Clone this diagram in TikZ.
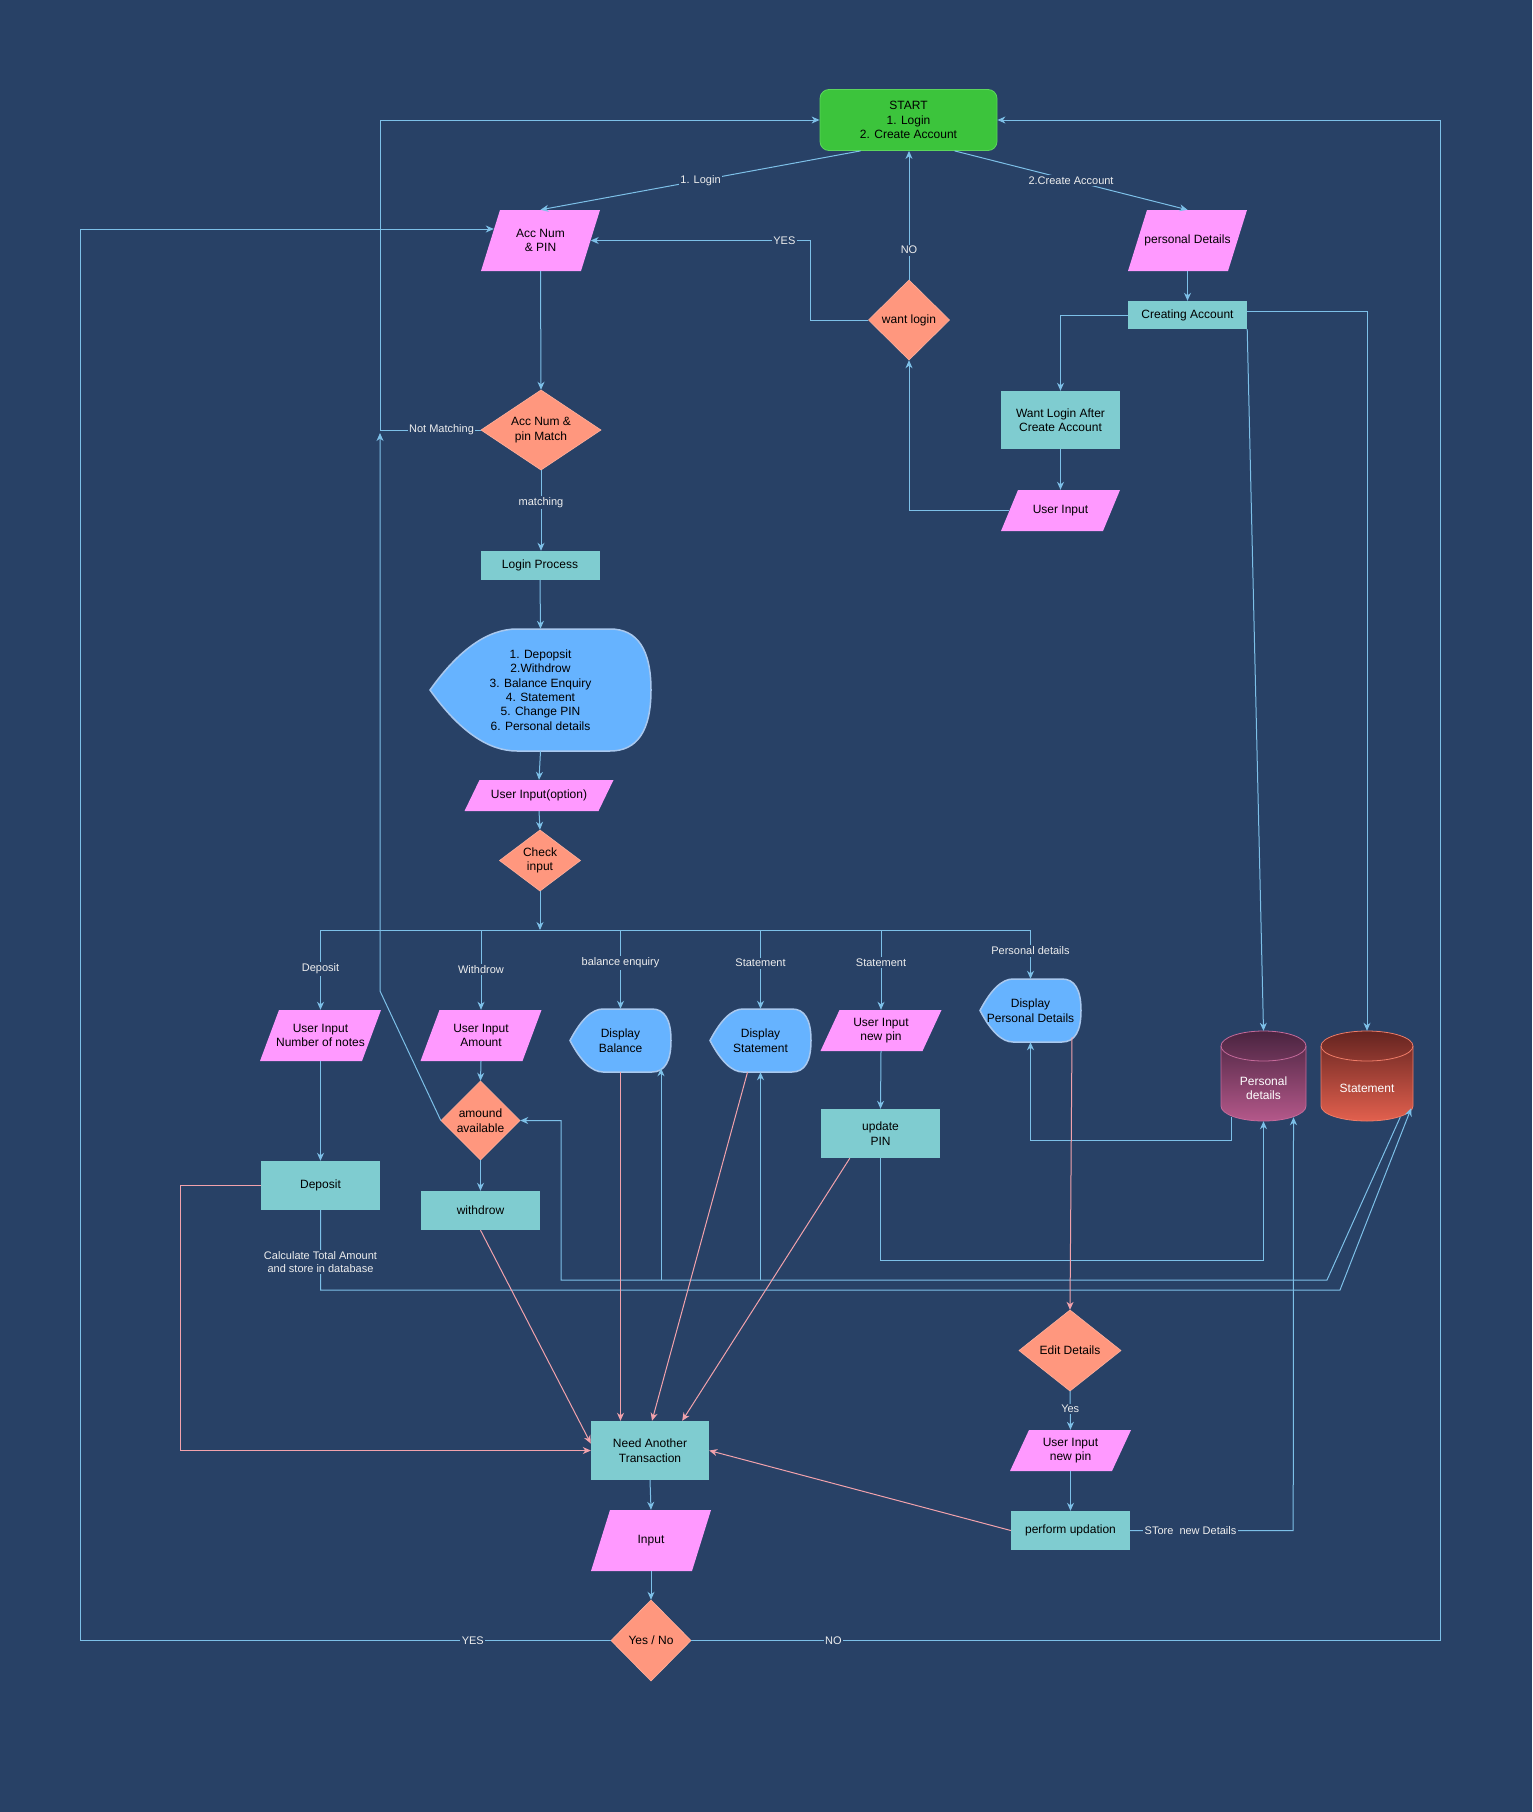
\documentclass[tikz,border=0pt]{standalone}
\usepackage{fontspec}
\setmainfont{Liberation Sans}
\usetikzlibrary{arrows.meta,calc}
\definecolor{bg}{HTML}{284166}
\definecolor{edgeb}{HTML}{7DC0E8}
\definecolor{edgep}{HTML}{F2A2AC}
\definecolor{mag}{HTML}{FF99FF}
\definecolor{tealbox}{HTML}{7FCCD0}
\definecolor{salmon}{HTML}{FF977E}
\definecolor{salmonline}{HTML}{FFB09C}
\definecolor{dispfill}{HTML}{66B3FF}
\definecolor{displine}{HTML}{A9C8EE}
\definecolor{startg}{HTML}{3CC43C}
\definecolor{startline}{HTML}{5CD65C}
\definecolor{lbltext}{HTML}{EEEEEE}
\definecolor{pdtop}{HTML}{4A2440}
\definecolor{pdbot}{HTML}{B4588A}
\definecolor{pdline}{HTML}{C46A9A}
\definecolor{sttop}{HTML}{652420}
\definecolor{stbot}{HTML}{E2604E}
\definecolor{stline}{HTML}{EE7C68}

\tikzset{
  ntext/.style={font=\fontsize{12}{14.4}\selectfont, align=center, inner sep=0pt, text=black},
  procbox/.style={ntext, rectangle, fill=tealbox},
  lbl/.style={font=\fontsize{11}{13}\selectfont, align=center, inner sep=1.5pt, fill=bg, text=lbltext},
  bl/.style={draw=edgeb, line width=1pt},
  pk/.style={draw=edgep, line width=1pt},
  arr/.style={-{Stealth[length=8pt,width=7pt,inset=2.5pt]}},
}

% parallelogram: name, cx, cy, W, H, slant, text
\newcommand\mkpara[7]{%
  \fill[mag] ({#2-#4/2+#6},{#3-#5/2}) -- ({#2+#4/2},{#3-#5/2}) -- ({#2+#4/2-#6},{#3+#5/2}) -- ({#2-#4/2},{#3+#5/2}) -- cycle;
  \node[ntext, minimum width={(#4-#6)*1pt}, minimum height=#5pt] (#1) at (#2,#3) {#7};}

% diamond: name, cx, cy, W, H, text
\newcommand\mkdia[6]{%
  \path[fill=salmon, draw=salmonline, line width=0.6pt] ({#2},{#3-#5/2}) -- ({#2+#4/2},{#3}) -- ({#2},{#3+#5/2}) -- ({#2-#4/2},{#3}) -- cycle;
  \node[ntext, minimum width=#4pt, minimum height=#5pt] (#1) at (#2,#3) {#6};}

% display: name, cx, cy, W, H, leftpart, rightradius, text
\newcommand\mkdisp[8]{%
  \path[fill=dispfill, draw=displine, line width=1.5pt]
   ({#2-#4/2},{#3}) .. controls ({#2-#4/2+#6/3},{#3-#5/3}) and ({#2-#4/2+2*#6/3},{#3-#5/2}) .. ({#2-#4/2+#6},{#3-#5/2})
   -- ({#2+#4/2-#7},{#3-#5/2}) .. controls ({#2+#4/2-#7/3},{#3-#5/2}) and ({#2+#4/2},{#3-#5/3}) .. ({#2+#4/2},{#3})
   .. controls ({#2+#4/2},{#3+#5/3}) and ({#2+#4/2-#7/3},{#3+#5/2}) .. ({#2+#4/2-#7},{#3+#5/2})
   -- ({#2-#4/2+#6},{#3+#5/2}) .. controls ({#2-#4/2+2*#6/3},{#3+#5/2}) and ({#2-#4/2+#6/3},{#3+#5/3}) .. ({#2-#4/2},{#3}) -- cycle;
  \node[ntext, minimum width=#4pt, minimum height=#5pt] (#1) at (#2,#3) {#8};}

% cylinder: name, cx, cy, W, H, topcolor, bottomcolor, stroke, text
\newcommand\mkcyl[9]{%
  \path[top color=#6, bottom color=#7, draw=#8, line width=0.8pt]
   ({#2-#4/2},{#3-#5/2+15}) -- ({#2-#4/2},{#3+#5/2-15})
   arc[start angle=180, end angle=360, x radius={#4*0.5pt}, y radius=15pt]
   -- ({#2+#4/2},{#3-#5/2+15})
   arc[start angle=0, end angle=180, x radius={#4*0.5pt}, y radius=15pt] -- cycle;
  \draw[#8, line width=0.8pt] ({#2-#4/2},{#3-#5/2+15}) arc[start angle=180, end angle=360, x radius={#4*0.5pt}, y radius=15pt];
  \node[inner sep=0pt, minimum width=#4pt, minimum height=#5pt,
        label={[font=\fontsize{12}{14.4}\selectfont, text=white, align=center, yshift=-12pt]center:{#9}}] (#1) at (#2,#3) {};}

\begin{document}
\begin{tikzpicture}[x=1pt, y=-1pt]
\fill[bg] (0,0) rectangle (1532,1812);

% ---------- nodes ----------
\node[ntext, fill=startg, draw=startline, line width=0.8pt, rounded corners=9pt, minimum width=177pt, minimum height=61pt] (start) at (908.5,120) {START\\1. Login\\2. Create Account};

\mkpara{accpin}{540.5}{240.5}{119}{61}{19}{Acc Num\\\& PIN}
\mkpara{persdet}{1187.5}{240.5}{119}{61}{19}{personal Details}
\mkdia{wantlogin}{909}{320}{81}{80}{want login}
\node[procbox, minimum width=119pt, minimum height=28pt] (creating) at (1187.5,315) {Creating Account};
\node[procbox, minimum width=119pt, minimum height=58pt] (wantafter) at (1060.5,420) {Want Login After\\Create Account};
\mkpara{uinput}{1060.5}{510.5}{119}{41}{17}{User Input}
\mkdia{match}{541}{430}{120}{80}{Acc Num \&\\pin Match}
\node[procbox, minimum width=119pt, minimum height=29pt] (login) at (540,565.5) {Login Process};
\mkdisp{menu}{540.5}{690}{221}{122}{87}{41}{1. Depopsit\\2.Withdrow\\3. Balance Enquiry\\4. Statement\\5. Change PIN\\6. Personal details}
\mkpara{uopt}{539}{795.5}{149}{31}{15}{User Input(option)}
\mkdia{check}{540}{860.5}{81}{61}{Check\\input}

\mkpara{uinnotes}{320.5}{1035.5}{121}{51}{19}{User Input\\Number of notes}
\mkpara{uiamount}{481}{1035.5}{121}{51}{19}{User Input\\Amount}
\mkdisp{dbal}{620.5}{1040.5}{101}{63}{33}{19}{Display\\Balance}
\mkdisp{dstmt}{760.5}{1040.5}{101}{63}{33}{19}{Display\\Statement}
\mkpara{uipin}{881}{1030.5}{121}{41}{19}{User Input\\new pin}
\mkdisp{dpers}{1030.5}{1010.5}{101}{63}{33}{19}{Display\\Personal Details}
\mkcyl{cylpd}{1263.5}{1076}{85}{90}{pdtop}{pdbot}{pdline}{Personal\\details}
\mkcyl{cylst}{1367}{1076}{92}{90}{sttop}{stbot}{stline}{Statement}

\mkdia{amount}{480.5}{1120.5}{79}{79}{amound\\available}
\node[procbox, minimum width=119pt, minimum height=49pt] (deposit) at (320.5,1185.5) {Deposit};
\node[procbox, minimum width=119pt, minimum height=39pt] (withdrow) at (480.5,1210.5) {withdrow};
\node[procbox, minimum width=119pt, minimum height=49pt] (updpin) at (880.5,1133.5) {update\\PIN};

\mkdia{edit}{1070}{1350.5}{102}{81}{Edit Details}
\mkpara{uipin2}{1070.5}{1450.5}{121}{41}{19}{User Input\\new pin}
\node[procbox, minimum width=119pt, minimum height=39pt] (perform) at (1070.5,1530.5) {perform updation};
\node[procbox, minimum width=118pt, minimum height=59pt] (nat) at (650,1450.5) {Need Another\\Transaction};
\mkpara{input}{651}{1540.5}{120}{61}{19}{Input}
\mkdia{yesno}{651}{1640.5}{80}{81}{Yes / No}

\coordinate (bar) at (540,930);

% ---------- blue connectors ----------
\draw[bl,arr] ($(start.south west)+(41,0)$) -- node[lbl]{1. Login} (accpin.north);
\draw[bl,arr] ($(start.south west)+(135,0)$) -- node[lbl]{2.Create Account} (persdet.north);
\draw[bl,arr] (wantlogin.north) -- node[lbl,pos=0.23]{NO} (wantlogin.north |- start.south);
\draw[bl,arr] (wantlogin.west) -- ++(-57.5,0) |- node[lbl,pos=0.56]{YES} (accpin.east);
\draw[bl,arr] (persdet.south) -- (creating.north);
\draw[bl,arr] (creating.west) -| (wantafter.north);
\draw[bl,arr] (wantafter.south) -- (uinput.north);
\draw[bl,arr] (uinput.west) -| (wantlogin.south);
\draw[bl,arr] (creating.south east) -- (cylpd.north);
\draw[bl,arr] ($(creating.east)+(0,-4)$) -| (cylst.north);

\draw[bl,arr] (accpin.south) -- (match.north);
\draw[bl,arr] (match.south) -- node[lbl,pos=0.4]{matching} (match.south |- login.north);
\draw[bl,arr] (match.west) -- node[lbl,pos=0.39]{Not Matching} (380,430) |- (start.west);
\draw[bl,arr] (amount.west) -- (380,991) -- (380,433);
\draw[bl,arr] (login.south) -- (menu.north);
\draw[bl,arr] (menu.south) -- (uopt.north);
\draw[bl,arr] (uopt.south) -- (check.north);
\draw[bl,arr] (check.south) -- (bar);
\draw[bl] (uinnotes.north |- bar) -- (dpers.north |- bar);

\draw[bl,arr] (uinnotes.north |- bar) -- node[lbl,pos=0.49]{Deposit} (uinnotes.north);
\draw[bl,arr] (uiamount.north |- bar) -- node[lbl,pos=0.49]{Withdrow} (uiamount.north);
\draw[bl,arr] (dbal.north |- bar) -- node[lbl,pos=0.42]{balance enquiry} (dbal.north);
\draw[bl,arr] (dstmt.north |- bar) -- node[lbl,pos=0.42]{Statement} (dstmt.north);
\draw[bl,arr] (uipin.north |- bar) -- node[lbl,pos=0.41]{Statement} (uipin.north);
\draw[bl,arr] (dpers.north |- bar) -- node[lbl,pos=0.43]{Personal details} (dpers.north);

\draw[bl,arr] (uinnotes.south) -- (deposit.north);
\draw[bl,arr] (uiamount.south) -- (amount.north);
\draw[bl,arr] (amount.south) -- (withdrow.north);
\draw[bl,arr] (uipin.south) -- (updpin.north);

\draw[bl,arr] (deposit.south) -- node[lbl,pos=0.65]{Calculate Total Amount\\and store in database} ++(0,80) -- (1340,1290) -- ($(cylst.south east)+(-2,-13)$);
\draw[bl,arr] ($(cylst.south east)+(-13,-4)$) -- (1327,1280) -- (561,1280) |- (amount.east);
\draw[bl,arr] (661,1280) -- ($(dbal.south)+(40.5,-4)$);
\draw[bl,arr] (dstmt.south |- 0,1280) -- (dstmt.south);
\draw[bl,arr] ($(cylpd.south west)+(11,-4)$) -- ++(0,23) -| (dpers.south);
\draw[bl,arr] (updpin.south) -- ++(0,102) -| (cylpd.south);
\draw[bl,arr] (perform.east) -- node[lbl,pos=0.37]{STore\ \ new Details} ++(163,0) -- ($(cylpd.south)+(30,-4)$);

\draw[bl,arr] (edit.south) -- node[lbl,pos=0.46]{Yes} (uipin2.north);
\draw[bl,arr] (uipin2.south) -- (perform.north);
\draw[bl,arr] (nat.south) -- (input.north);
\draw[bl,arr] (input.south) -- (yesno.north);

\draw[bl,arr] (yesno.west) -- node[lbl,pos=0.26]{YES} (80,1640.5) |- ($(accpin.west)+(3.5,-11.5)$);
\draw[bl,arr] (yesno.east) -- node[lbl,pos=0.19]{NO} (1440,1640.5) |- (start.east);

% ---------- pink connectors ----------
\draw[pk,arr] (deposit.west) -- (180,1185.5) |- (nat.west);
\draw[pk,arr] (withdrow.south) -- ($(nat.west)+(0,-7)$);
\draw[pk,arr] (dbal.south) -- (dbal.south |- nat.north);
\draw[pk,arr] ($(dstmt.south)+(-13,0)$) -- ($(nat.north)+(2,0)$);
\draw[pk,arr] ($(updpin.south west)+(29,0)$) -- ($(nat.north east)+(-27,0)$);
\draw[pk,arr] ($(dpers.south)+(41.5,-5)$) -- (edit.north);
\draw[pk,arr] (perform.west) -- (nat.east);
\end{tikzpicture}
\end{document}
